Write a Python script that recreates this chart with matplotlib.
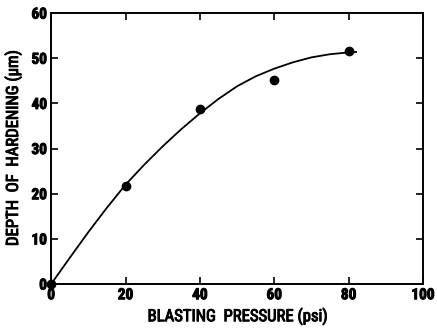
import matplotlib
matplotlib.use('Agg')
import matplotlib.pyplot as plt
import matplotlib.patheffects as pe

# measured points
pressure = [0, 20, 40, 60, 80]
depth = [0, 21.8, 38.8, 45.2, 51.6]

# hand-drawn fit curve
curve_x = [0, 5, 10, 15, 20, 25, 30, 35, 40, 45, 50, 55, 60, 65, 70, 75, 80, 82]
curve_y = [0, 5.8, 11.5, 16.9, 22.0, 26.4, 30.5, 34.3, 37.8, 41.0, 43.8, 46.0, 47.7, 49.1, 50.2, 50.9, 51.3, 51.4]

xticks = [0, 20, 40, 60, 80, 100]
yticks = [0, 10, 20, 30, 40, 50, 60]

plt.rcParams['font.family'] = ['Roboto Condensed', 'DejaVu Sans']
plt.rcParams['font.weight'] = 'bold'

# the original lettering is heavy, fake it with a thin stroke
bold = [pe.withStroke(linewidth=0.7, foreground='black')]

fig = plt.figure(figsize=(4.37, 3.28), dpi=100)
ax = fig.add_axes([0.117, 0.134, 0.851, 0.826])

ax.plot(curve_x, curve_y, color='black', lw=1.3)
ax.plot(pressure, depth, 'o', color='black', markersize=6, clip_on=False, zorder=5)

ax.set_xlim(0, 100)
ax.set_ylim(0, 60)
ax.set_xticks(xticks)
ax.set_yticks(yticks)
ax.tick_params(direction='in', length=5, width=1.2, top=True, right=True,
               labelsize=11, pad=3)
for lab in ax.get_xticklabels() + ax.get_yticklabels():
    lab.set_path_effects(bold)
for s in ax.spines.values():
    s.set_linewidth(1.4)

ax.set_xlabel('BLASTING  PRESSURE (psi)', fontsize=12, labelpad=4, path_effects=bold)
ax.set_ylabel('DEPTH  OF  HARDENING (\u03bcm)', fontsize=12, labelpad=7, path_effects=bold)

fig.savefig('out.png', dpi=100)
